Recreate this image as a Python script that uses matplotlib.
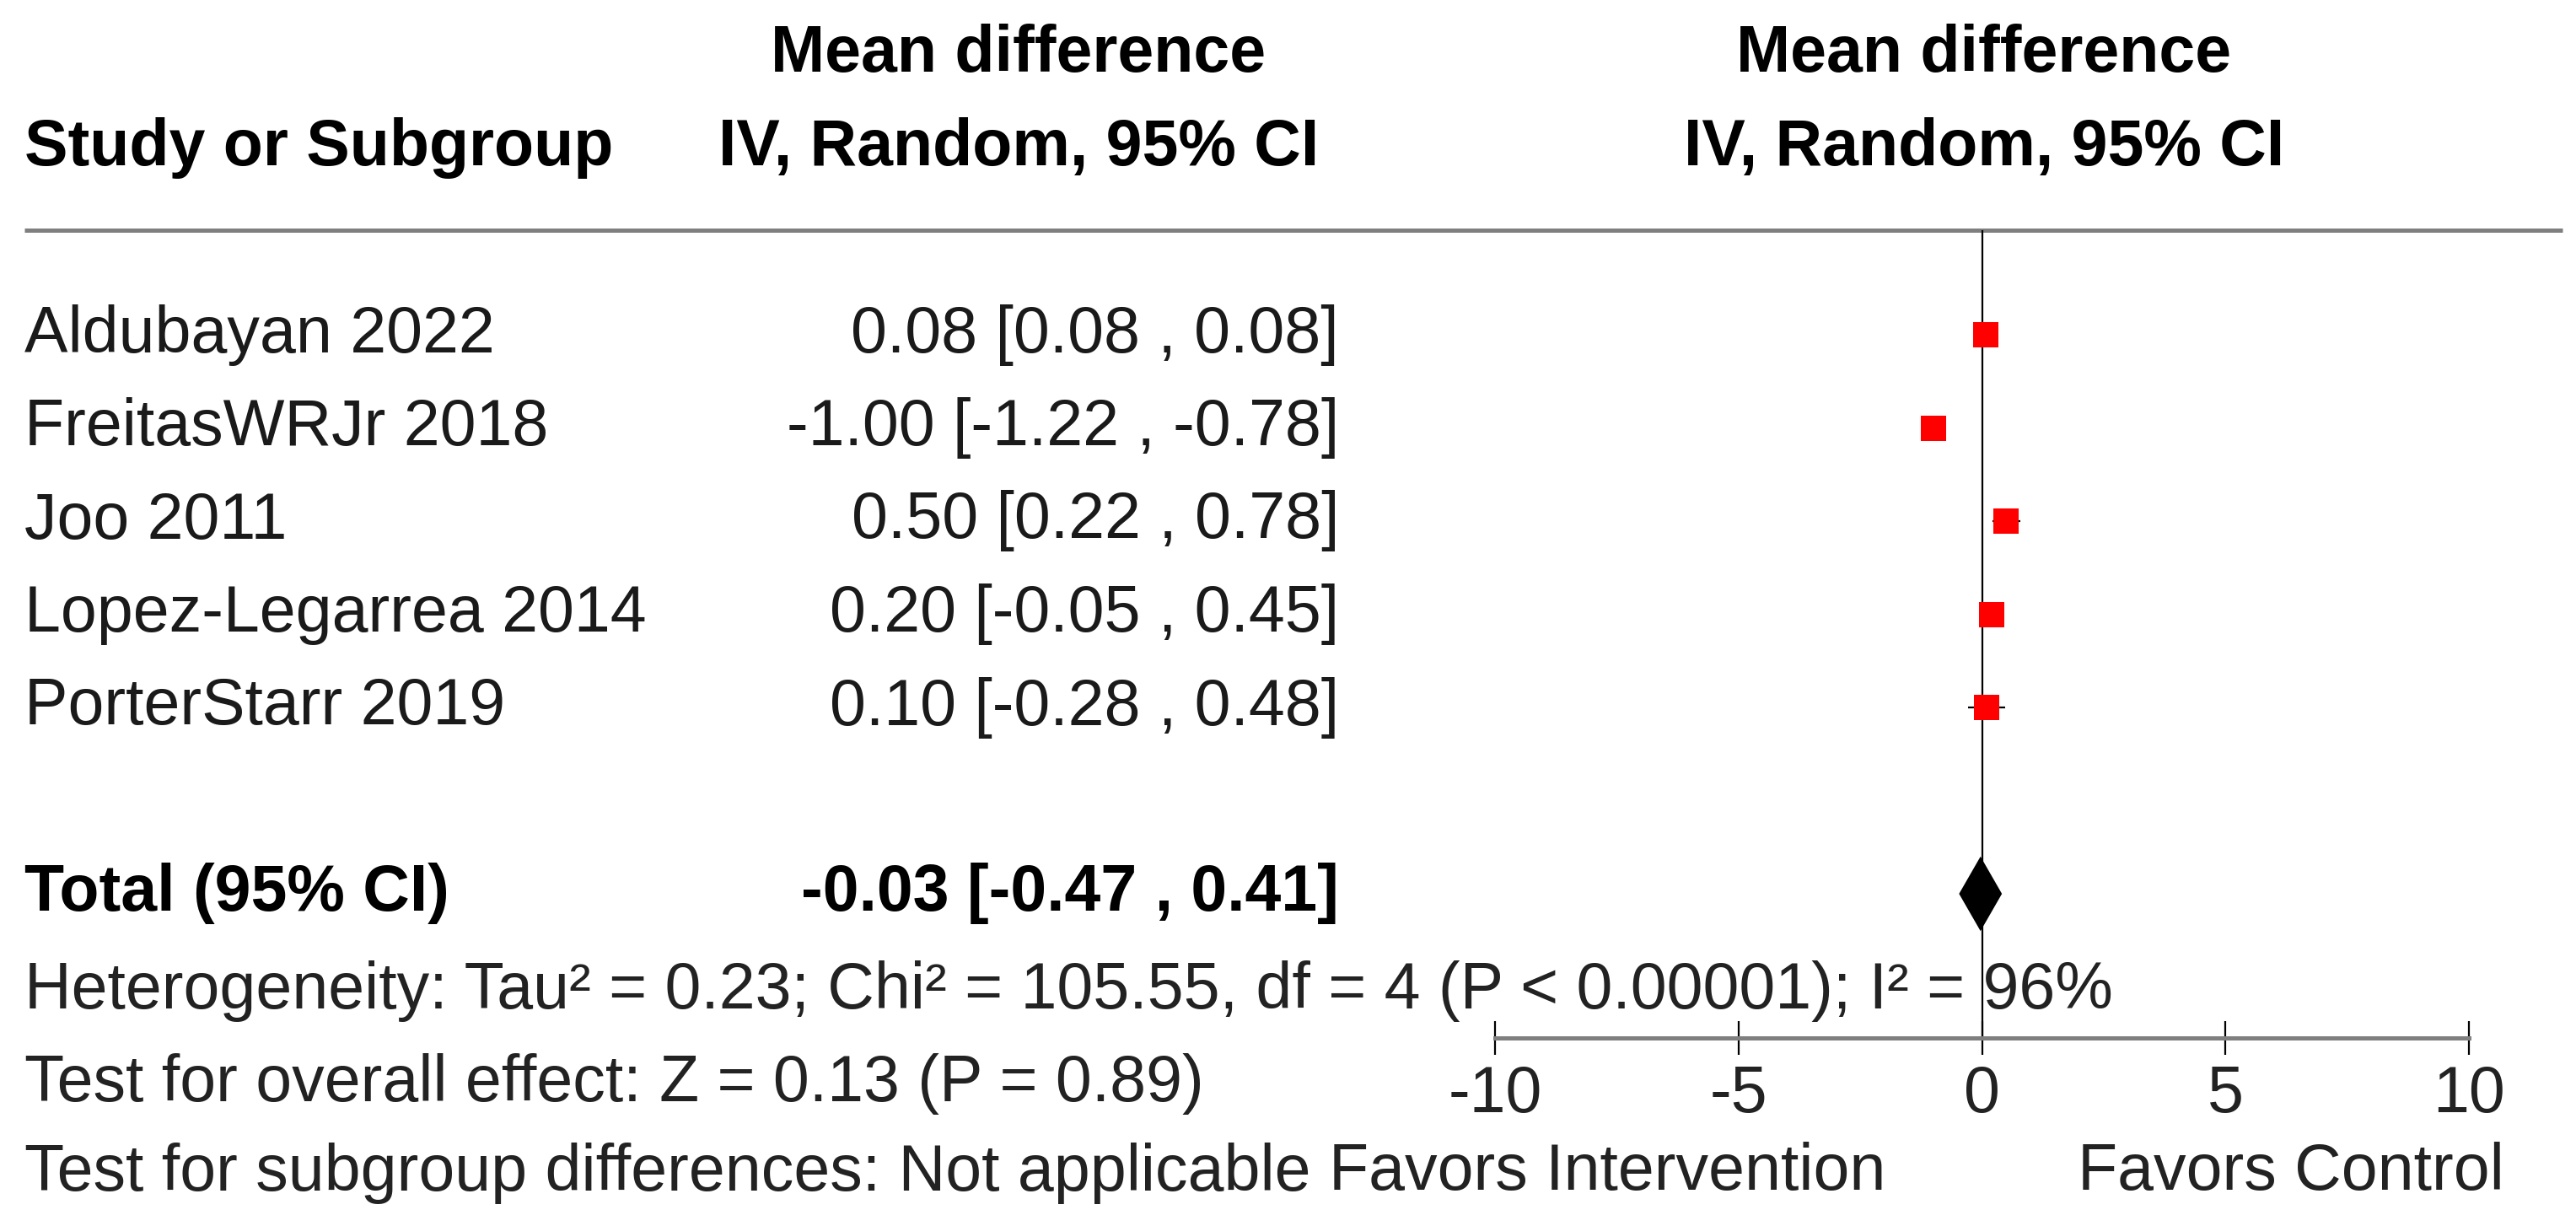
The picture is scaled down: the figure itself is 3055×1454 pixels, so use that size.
import matplotlib
matplotlib.use("Agg")
import matplotlib.pyplot as plt

plt.rcParams['font.family'] = ['Liberation Sans', 'DejaVu Sans']
plt.rcParams['axes.unicode_minus'] = False

# data
studies = ["Aldubayan 2022", "FreitasWRJr 2018", "Joo 2011", "Lopez-Legarrea 2014", "PorterStarr 2019"]
md = [0.08, -1.00, 0.50, 0.20, 0.10]
ci_lo = [0.08, -1.22, 0.22, -0.05, -0.28]
ci_hi = [0.08, -0.78, 0.78, 0.45, 0.48]
total_md, total_lo, total_hi = -0.03, -0.47, 0.41
xticks = [-10, -5, 0, 5, 10]
footer = [
    "Heterogeneity: Tau\u00b2 = 0.23; Chi\u00b2 = 105.55, df = 4 (P < 0.00001); I\u00b2 = 96%",
    "Test for overall effect: Z = 0.13 (P = 0.89)",
    "Test for subgroup differences: Not applicable",
]

W, H = 3055, 1454
fig = plt.figure(figsize=(W / 100, H / 100), dpi=100)

# background axes in pixel coords for the table text
bg = fig.add_axes([0, 0, 1, 1])
bg.set_xlim(0, W)
bg.set_ylim(H, 0)
bg.axis('off')

fs = 55.5
row0, step = 397, 110.5
col_name, col_eff, col_hdr = 29, 1588, 1208
plot_l, plot_r = 1773, 2928
rule_y, axis_y = 273, 1231
txt_col = '#1a1a1a'

# headers
bg.text(col_hdr, 64, "Mean difference", ha='center', va='center', fontsize=fs, fontweight='bold')
bg.text(col_hdr, 175, "IV, Random, 95% CI", ha='center', va='center', fontsize=fs, fontweight='bold')
bg.text(col_name, 175, "Study or Subgroup", ha='left', va='center', fontsize=fs, fontweight='bold')
bg.text(2353, 64, "Mean difference", ha='center', va='center', fontsize=fs, fontweight='bold')
bg.text(2353, 175, "IV, Random, 95% CI", ha='center', va='center', fontsize=fs, fontweight='bold')
bg.plot([29, 3039], [rule_y, rule_y], color='#7f7f7f', lw=3.6, solid_capstyle='butt')

# study rows
for i, (s, m, l, h) in enumerate(zip(studies, md, ci_lo, ci_hi)):
    y = row0 + i * step
    bg.text(col_name, y, s, ha='left', va='center', fontsize=fs, color=txt_col)
    bg.text(col_eff, y, f"{m:.2f} [{l:.2f} , {h:.2f}]", ha='right', va='center', fontsize=fs, color=txt_col)

ty = row0 + 6 * step
bg.text(col_name, ty, "Total (95% CI)", ha='left', va='center', fontsize=fs, fontweight='bold')
bg.text(col_eff, ty, f"{total_md:.2f} [{total_lo:.2f} , {total_hi:.2f}]",
        ha='right', va='center', fontsize=fs, fontweight='bold')

for j, t in enumerate(footer):
    bg.text(col_name, [1175, 1286, 1391][j], t, ha='left', va='center', fontsize=fs, color='#222222')

bg.text(2236, 1391, "Favors Intervention", ha='right', va='center', fontsize=fs, color='#222222')
bg.text(2464, 1391, "Favors Control", ha='left', va='center', fontsize=fs, color='#222222')

# forest plot axes
ax = fig.add_axes([plot_l / W, 1 - axis_y / H, (plot_r - plot_l) / W, (axis_y - rule_y) / H])
ax.patch.set_alpha(0)
ax.set_xlim(-10, 10)
ax.set_ylim((axis_y - row0) / step, (rule_y - row0) / step)
ax.axvline(0, color='black', lw=1.6)
ys = list(range(len(studies)))
ax.hlines(ys, ci_lo, ci_hi, color='black', lw=1.6)
ax.plot(md, ys, 's', color='#ff0000', markersize=21, markeredgewidth=0)
dh = 0.4
ax.fill([total_lo, total_md, total_hi, total_md], [6, 6 - dh, 6, 6 + dh], color='black', lw=0)

for sp in ['top', 'left', 'right']:
    ax.spines[sp].set_visible(False)
ax.spines['bottom'].set_color('#7f7f7f')
ax.spines['bottom'].set_linewidth(3.6)
ax.set_yticks([])
ax.set_xticks(xticks)
ax.tick_params(axis='x', direction='inout', length=29, width=1.6, color='black',
               labelsize=fs, labelcolor='#222222', pad=8)

fig.savefig("out.png", dpi=100)
